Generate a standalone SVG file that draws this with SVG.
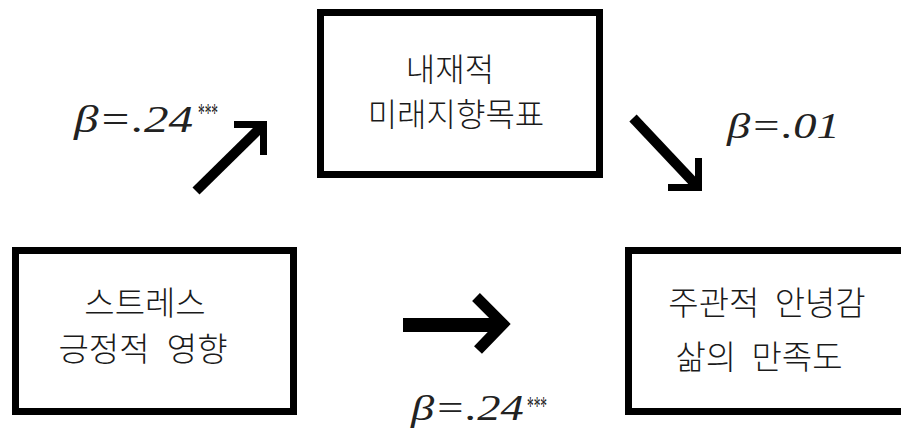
<svg xmlns="http://www.w3.org/2000/svg" width="901" height="434" viewBox="0 0 901 434">
<defs>
<style>
.box{fill:#fff;stroke:#000;stroke-width:7}
.kt{font-family:"Noto Sans CJK KR","Noto Sans",sans-serif;font-size:33px;font-weight:300;fill:#1a1a1a;text-anchor:middle}
.beta{font-family:"Liberation Serif",serif;font-style:italic;font-size:37px;fill:#222}
.star{font-family:"Liberation Serif",serif;font-size:27px;fill:#222}
.shaft{stroke:#000;fill:none;stroke-linecap:butt}
.head{stroke:#000;fill:none;stroke-width:7;stroke-linejoin:miter;stroke-linecap:butt}
</style>
</defs>
<rect width="901" height="434" fill="#fff"/>
<g id="node-goal">
<rect class="box" x="320.5" y="12.5" width="279" height="162"/>
<text class="kt" x="450" y="81" style="font-size:32px">내재적</text>
<text class="kt" x="456" y="126" style="font-size:32px">미래지향목표</text>
</g>
<g id="node-stress">
<rect class="box" x="15.5" y="250.5" width="278" height="161"/>
<text class="kt" x="145" y="315">스트레스</text>
<text class="kt" x="143" y="361" word-spacing="10">긍정적 영향</text>
</g>
<g id="node-wellbeing">
<rect class="box" x="628.5" y="250.5" width="290" height="161"/>
<text class="kt" x="767" y="315" word-spacing="8">주관적 안녕감</text>
<text class="kt" x="759" y="369" word-spacing="8">삶의 만족도</text>
</g>
<g id="connectors">
<line class="shaft" x1="196" y1="191" x2="262" y2="126" stroke-width="10"/>
<polyline class="head" points="234,124.5 263.5,124.5 263.5,155"/>
<line class="shaft" x1="633" y1="118" x2="698" y2="187" stroke-width="10"/>
<polyline class="head" points="668,187.5 698.5,187.5 698.5,158"/>
<line class="shaft" x1="403" y1="325" x2="500" y2="325" stroke-width="14"/>
<polyline class="head" points="476,297 503,324 478,350" style="stroke-width:11"/>
</g>
<g id="labels">
<text class="beta" transform="translate(74,132) scale(1.33,1)">β=.24</text>
<text class="star" x="198" y="122" textLength="20" lengthAdjust="spacingAndGlyphs">***</text>
<text class="beta" transform="translate(727,138) scale(1.33,1)" style="font-size:35px">β=.01</text>
<text class="beta" transform="translate(411,420) scale(1.33,1)" style="font-size:35px">β=.24</text>
<text class="star" x="527" y="415" textLength="20" lengthAdjust="spacingAndGlyphs">***</text>
</g>
</svg>
